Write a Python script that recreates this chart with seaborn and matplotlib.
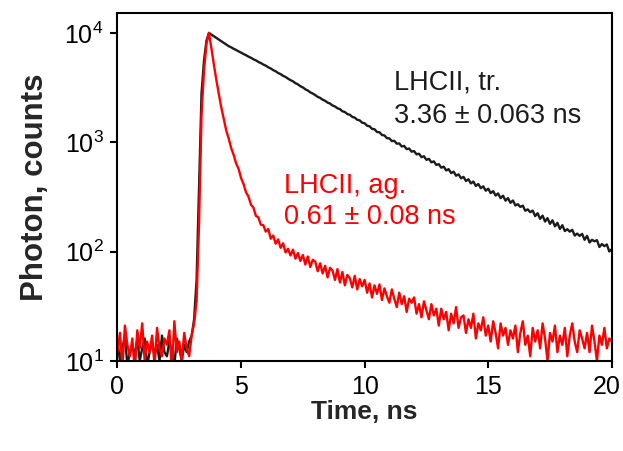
import numpy as np
import pandas as pd
import matplotlib
matplotlib.use("Agg")
import matplotlib.pyplot as plt
import matplotlib.transforms as mtransforms
import seaborn as sns
from matplotlib.ticker import LogLocator, NullLocator

# TCSPC channel grid, 0.1 ns per channel
time_ns = np.linspace(0, 20, 201)

# photon counts, one row per ns
counts_tr = [
    15, 10, 13, 17, 9, 12, 14, 11, 16, 10,
    13, 16, 9, 12, 15, 11, 14, 10, 17, 12,
    11, 15, 12, 9, 16, 13, 10, 14, 12, 15,
    17, 24, 55, 400, 2800, 5600, 8500, 10000, 9660, 9330,
    9020, 8690, 8430, 8110, 7870, 7570, 7390, 7160, 6990, 6780,
    6610, 6410, 6260, 6070, 5930, 5740, 5610, 5430, 5310, 5140,
    5020, 4850, 4730, 4570, 4460, 4300, 4200, 4050, 3960, 3815,
    3700, 3610, 3470, 3385, 3255, 3175, 3050, 2975, 2860, 2790,
    2700, 2600, 2545, 2450, 2395, 2305, 2260, 2170, 2125, 2045,
    2010, 1920, 1890, 1810, 1785, 1705, 1680, 1605, 1585, 1510,
    1490, 1415, 1400, 1325, 1315, 1240, 1235, 1165, 1155, 1090,
    1085, 1025, 1030, 970, 975, 915, 925, 865, 875, 820,
    830, 775, 785, 730, 745, 690, 705, 655, 668, 620,
    630, 585, 598, 552, 567, 522, 538, 494, 508, 468,
    482, 442, 458, 420, 437, 398, 415, 380, 395, 360,
    376, 342, 357, 325, 340, 308, 324, 292, 308, 279,
    293, 264, 271, 256, 263, 236, 243, 229, 237, 211,
    224, 199, 213, 188, 202, 179, 193, 170, 183, 161,
    174, 154, 160, 152, 158, 140, 146, 139, 145, 128,
    139, 121, 128, 124, 127, 110, 117, 112, 116, 100,
    105,
]
counts_ag = [
    12, 18, 9, 21, 14, 11, 16, 8, 19, 13,
    22, 10, 15, 12, 17, 9, 20, 13, 11, 16,
    14, 19, 8, 23, 12, 15, 10, 18, 13, 11,
    17, 22, 35, 180, 1800, 4500, 8000, 10000, 7240, 5130,
    3715, 2760, 2080, 1630, 1280, 1080, 885, 765, 640, 570,
    470, 415, 348, 318, 268, 252, 212, 205, 176, 174,
    152, 161, 131, 140, 118, 129, 108, 119, 98, 106,
    92, 104, 86, 97, 82, 93, 76, 90, 72, 84,
    81, 66, 78, 63, 74, 58, 71, 67, 55, 69,
    52, 65, 49, 61, 57, 47, 60, 45, 56, 48,
    55, 42, 51, 38, 49, 41, 50, 36, 46, 39,
    34, 45, 37, 31, 42, 33, 39, 28, 37, 34,
    38, 27, 33, 25, 35, 29, 24, 33, 26, 30,
    21, 30, 24, 28, 19, 27, 22, 31, 20, 25,
    26, 18, 24, 20, 27, 16, 22, 19, 25, 17,
    21, 15, 23, 18, 13, 22, 17, 20, 14, 19,
    16, 21, 12, 18, 23, 14, 17, 11, 20, 15,
    19, 13, 22, 16, 10, 18, 15, 21, 12, 17,
    14, 20, 11, 17, 22, 15, 12, 19, 16, 13,
    18, 12, 21, 15, 10, 17, 14, 20, 13, 16,
    15,
]

samples = ["LHCII, tr.", "LHCII, ag."]
lifetimes = ["3.36 \u00b1 0.063 ns", "0.61 \u00b1 0.08 ns"]
colors = ["#1c1c1c", "#ff0000"]

df = pd.concat([
    pd.DataFrame({"time": time_ns, "counts": counts_tr, "sample": samples[0]}),
    pd.DataFrame({"time": time_ns, "counts": counts_ag, "sample": samples[1]}),
])

sns.set_style("ticks")
plt.rcParams["font.family"] = ["Liberation Sans", "DejaVu Sans"]

fig, ax = plt.subplots(figsize=(6.23, 4.51), dpi=100)
fig.subplots_adjust(left=0.1886, right=0.982, top=0.971, bottom=0.2)

sns.lineplot(data=df, x="time", y="counts", hue="sample", hue_order=samples,
             palette=dict(zip(samples, colors)), estimator=None, lw=1.7,
             legend=False, ax=ax)

ax.set_yscale("log")
ax.set_xlim(0, 20)
ax.set_ylim(10, 1.52e4)
ax.set_xticks([0, 5, 10, 15, 20])
ax.yaxis.set_major_locator(LogLocator(base=10, numticks=10))
ax.yaxis.set_minor_locator(NullLocator())
ax.tick_params(direction="out", length=5, width=1.5, labelsize=18, pad=5,
               colors="black")
for s in ax.spines.values():
    s.set_linewidth(1.5)
    s.set_color("black")

# nudge the last x label ("20") a little left so it stays inside the figure
last = ax.xaxis.get_major_ticks()[-1].label1
last.set_transform(last.get_transform() +
                   mtransforms.ScaledTranslation(-0.05, 0, fig.dpi_scale_trans))

ax.set_xlabel("Time, ns", fontsize=19, fontweight="bold", labelpad=1)
ax.set_ylabel("Photon, counts", fontsize=22.5, fontweight="bold", labelpad=10)

# annotations
ax.text(11.2, 10**3.48, samples[0], color=colors[0], fontsize=19.5, va="baseline")
ax.text(11.2, 10**3.18, lifetimes[0], color=colors[0], fontsize=19.5, va="baseline")
ax.text(6.75, 10**2.54, samples[1], color=colors[1], fontsize=19.5, va="baseline")
ax.text(6.75, 10**2.25, lifetimes[1], color=colors[1], fontsize=19.5, va="baseline")

fig.savefig("out.png", dpi=100)
